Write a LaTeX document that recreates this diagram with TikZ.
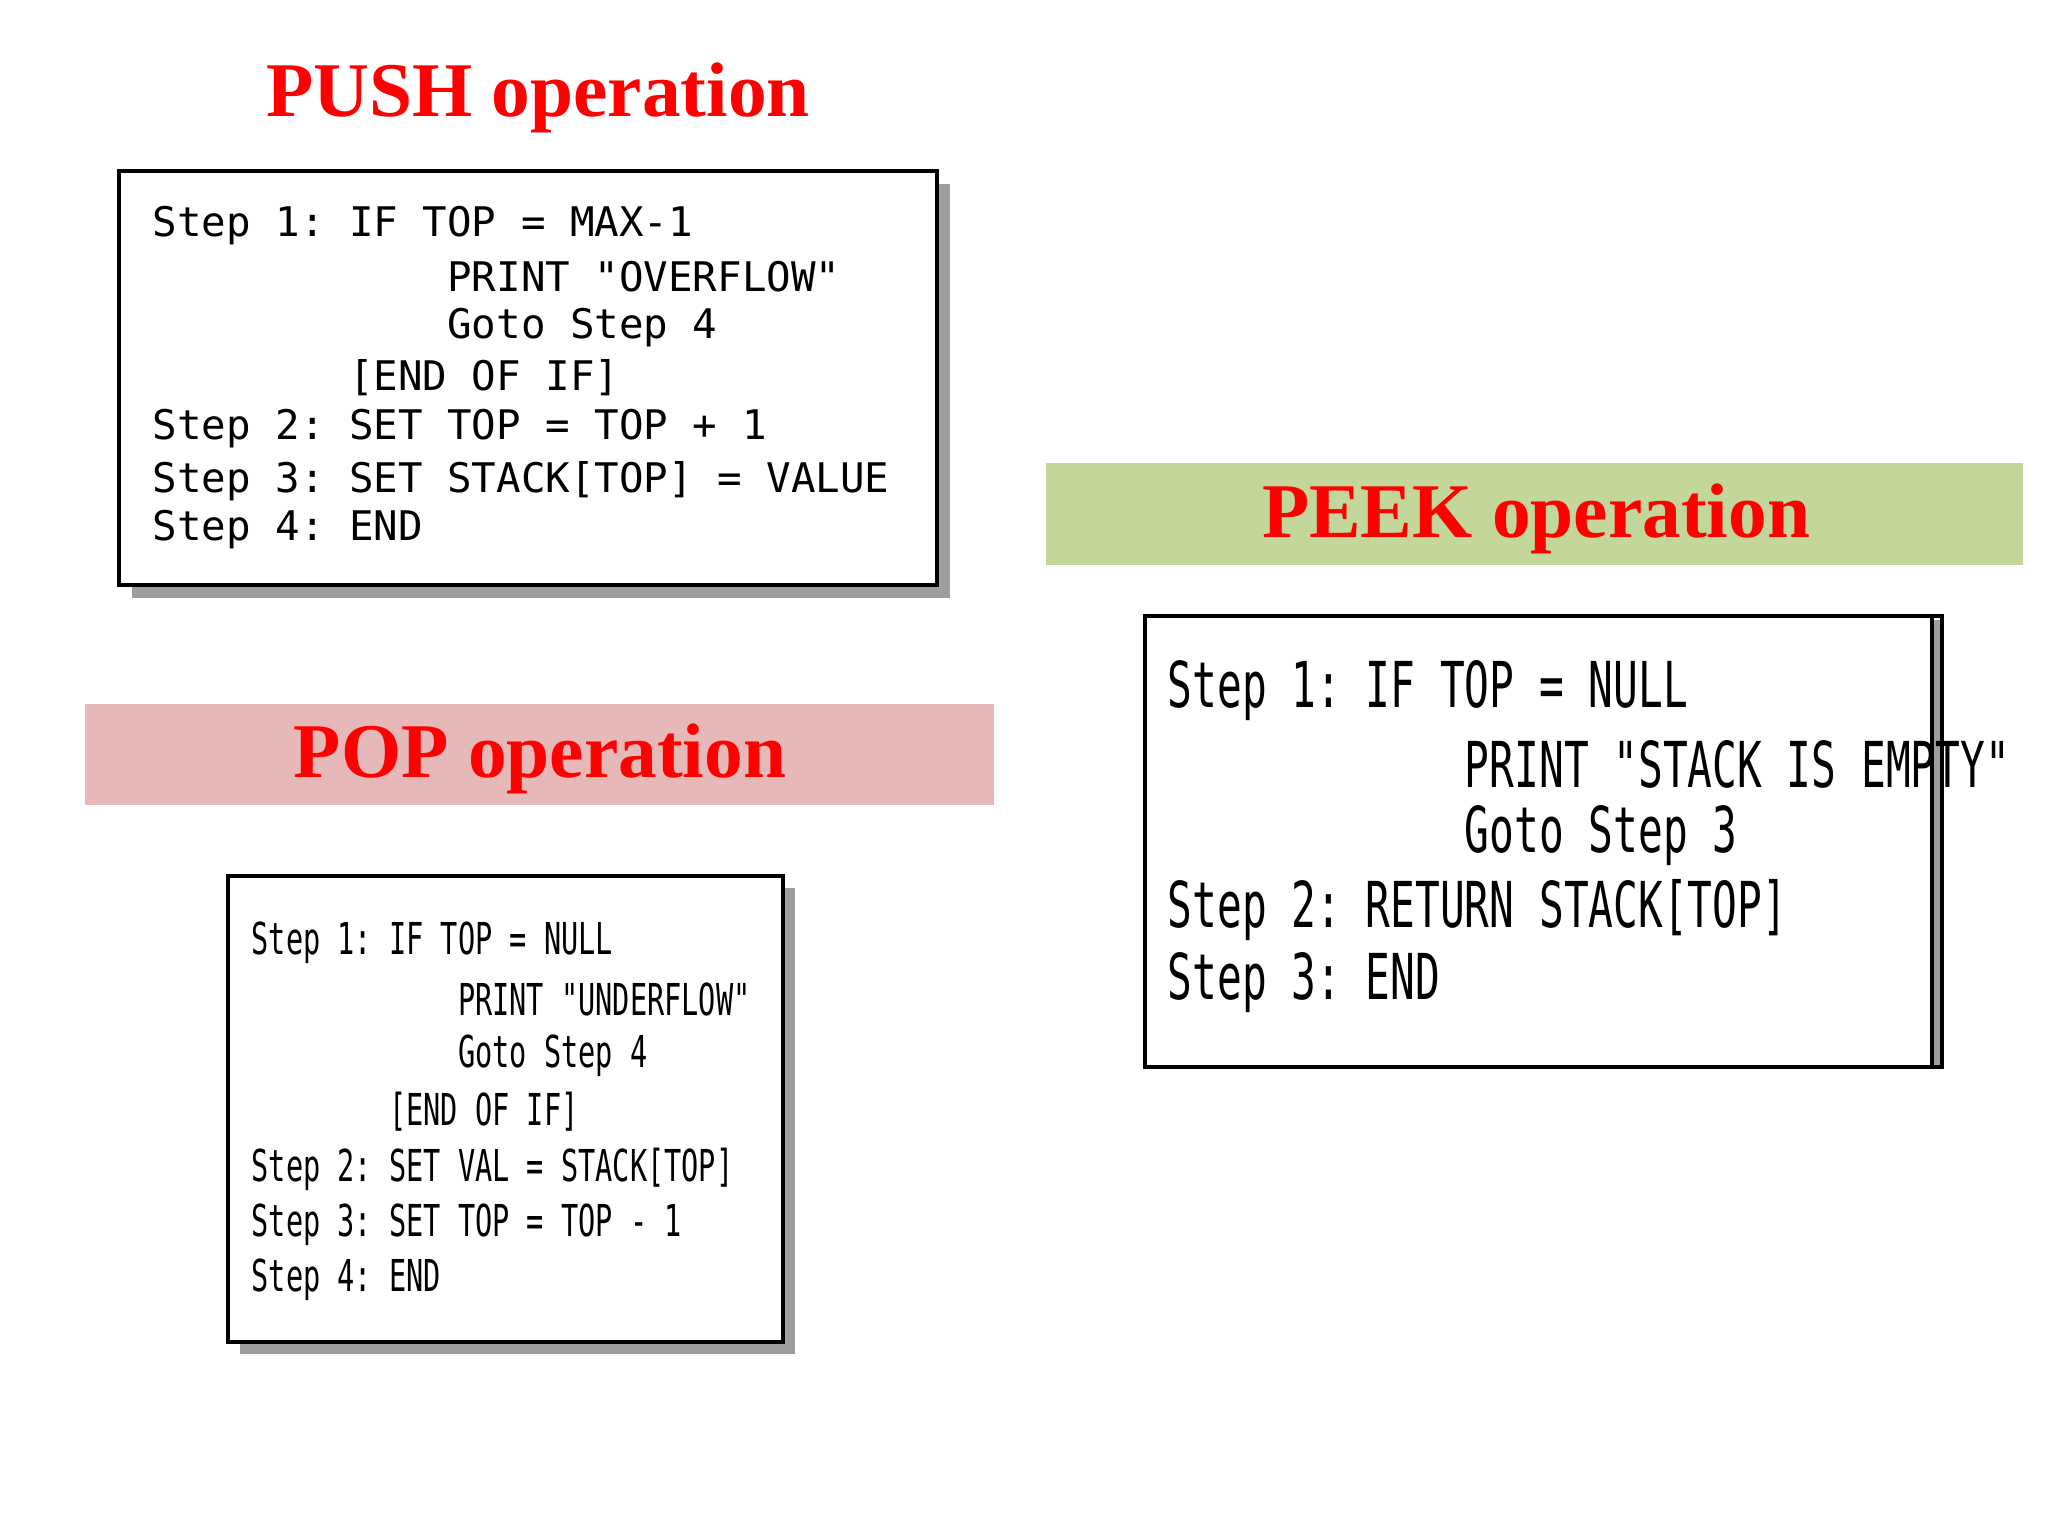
\documentclass[tikz,border=0pt]{standalone}
\usepackage{fontspec}
\newfontfamily\ttl{Liberation Serif}
\newfontfamily\pushf{DejaVu Sans Mono}
\newfontfamily\popf[FakeStretch=0.65]{DejaVu Sans Mono}
\begin{document}
\begin{tikzpicture}[x=0.01cm,y=-0.01cm,
  ttlstyle/.style={font=\ttl\fontsize{22}{24}\bfseries\selectfont,text=red},
  box/.style={draw=black,line width=1.2pt,fill=white},
  shad/.style={fill=black!38,draw=none},
  ln/.style={anchor=west,inner sep=0pt}]
\useasboundingbox[fill=white] (0,0) rectangle (2048,1536);
% PUSH
\node[ttlstyle] (pusht) at (538,98) {PUSH operation};
\fill[shad] (132,184) rectangle (950,598);
\draw[box] (119,171) rectangle (937,585);
\begin{scope}[every node/.style={ln,font=\pushf\fontsize{11.6}{13}\selectfont}]
\node (p1) at (152,226) {Step~1:~IF~TOP~=~MAX-1};
\node (p2) at (152,277) {~~~~~~~~~~~~PRINT~"OVERFLOW"};
\node (p3) at (152,328) {~~~~~~~~~~~~Goto~Step~4};
\node (p4) at (152,378) {~~~~~~~~[END~OF~IF]};
\node (p5) at (152,429) {Step~2:~SET~TOP~=~TOP~+~1};
\node (p6) at (152,481) {Step~3:~SET~STACK[TOP]~=~VALUE};
\node (p7) at (152,530) {Step~4:~END};
\end{scope}
% POP
\fill[fill={rgb,255:red,230;green,184;blue,183}] (85,704) rectangle (994,805);
\node[ttlstyle] (popt) at (540,759) {POP operation};
\fill[shad] (240,888) rectangle (795,1354);
\draw[box] (228,876) rectangle (783,1342);
\begin{scope}[every node/.style={ln,font=\popf\fontsize{12.5}{14}\selectfont}]
\node (o1) at (251,943) {Step~1:~IF~TOP~=~NULL};
\node (o2) at (251,999) {~~~~~~~~~~~~PRINT~"UNDERFLOW"};
\node (o3) at (251,1056) {~~~~~~~~~~~~Goto~Step~4};
\node (o4) at (251,1112) {~~~~~~~~[END~OF~IF]};
\node (o5) at (251,1169) {Step~2:~SET~VAL~=~STACK[TOP]};
\node (o6) at (251,1225) {Step~3:~SET~TOP~=~TOP~-~1};
\node (o7) at (251,1280) {Step~4:~END};
\end{scope}
% PEEK
\fill[fill={rgb,255:red,196;green,215;blue,155}] (1046,463) rectangle (2023,565);
\node[ttlstyle] (peekt) at (1536,519) {PEEK operation};
\fill[shad] (1925,620) rectangle (1942,1067);
\draw[box] (1145,616) rectangle (1932,1067);
\draw[black,line width=1pt] (1932,616) -- (1942,616) -- (1942,1067) -- (1932,1067);
\begin{scope}[every node/.style={ln,font=\popf\fontsize{18}{20}\selectfont}]
\node (k1) at (1167,691) {Step~1:~IF~TOP~=~NULL};
\node (k2) at (1167,764) {~~~~~~~~~~~~PRINT~"STACK~IS~EMPTY"};
\node (k3) at (1167,836) {~~~~~~~~~~~~Goto~Step~3};
\node (k4) at (1167,910) {Step~2:~RETURN~STACK[TOP]};
\node (k5) at (1167,983) {Step~3:~END};
\end{scope}
\end{tikzpicture}
\end{document}
